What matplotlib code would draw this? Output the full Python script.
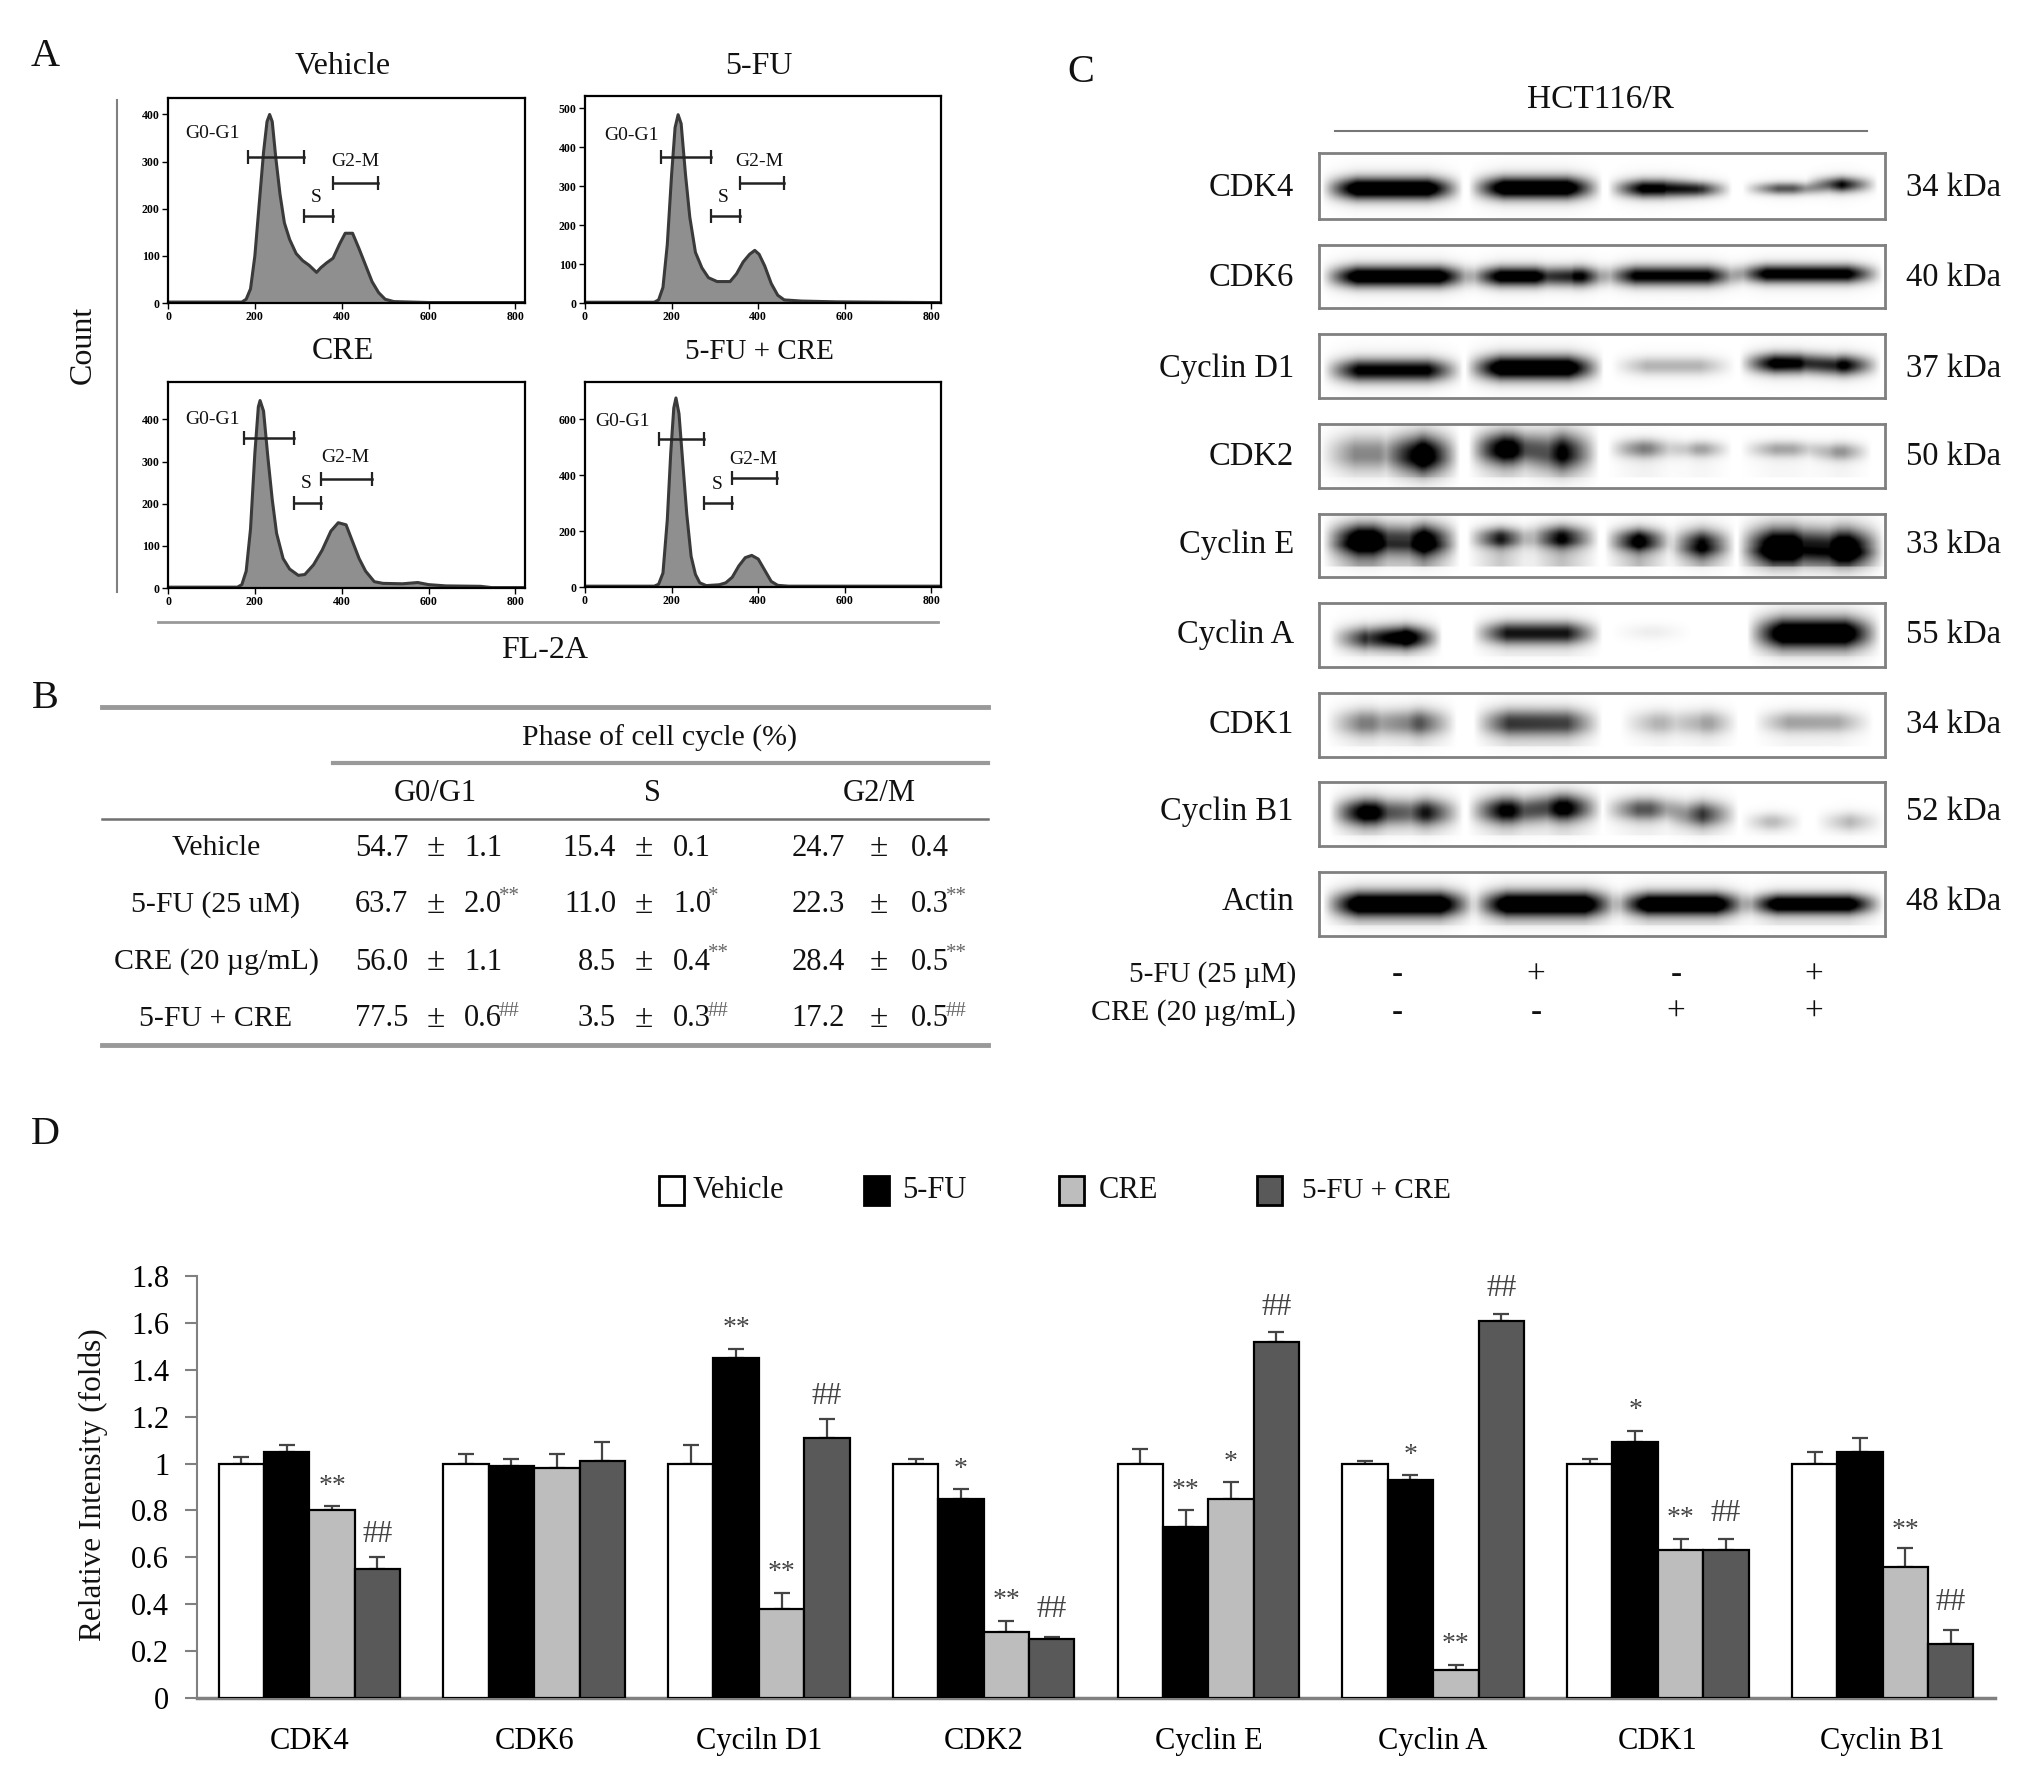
import numpy as np
import matplotlib
matplotlib.use('Agg')
import matplotlib.pyplot as plt
from matplotlib.lines import Line2D
from matplotlib.patches import Rectangle

plt.rcParams['font.family'] = ['Liberation Serif', 'DejaVu Serif']

W, H = 2035, 1771

# Panel A: histograms
hist_titles = ['Vehicle', '5-FU', 'CRE', '5-FU + CRE']
hist_x = [
    [0, 170, 180, 190, 200, 210, 220, 228, 234, 240, 248, 258, 268, 280, 295, 310, 325, 342, 352, 365, 380, 395, 408, 425, 440, 455, 470, 485, 500, 520, 600, 820],
    [0, 160, 170, 180, 190, 200, 208, 215, 222, 232, 242, 255, 270, 285, 305, 335, 350, 365, 380, 392, 402, 415, 430, 445, 460, 500, 580, 820],
    [0, 160, 170, 180, 190, 200, 208, 212, 220, 230, 240, 250, 265, 280, 300, 315, 335, 355, 375, 392, 410, 425, 440, 455, 475, 495, 540, 575, 600, 640, 720, 745, 820],
    [0, 160, 170, 180, 190, 198, 205, 210, 217, 225, 235, 245, 255, 265, 280, 310, 325, 340, 355, 370, 385, 400, 415, 430, 445, 470, 820],
]
hist_y = [
    [2, 2, 8, 30, 100, 210, 320, 385, 400, 385, 310, 230, 170, 135, 105, 90, 80, 65, 75, 85, 95, 125, 148, 148, 115, 80, 45, 22, 8, 3, 1, 1],
    [2, 2, 8, 40, 150, 330, 450, 483, 460, 330, 220, 130, 90, 65, 55, 55, 75, 105, 125, 135, 125, 95, 50, 20, 8, 5, 3, 1],
    [2, 2, 8, 40, 140, 320, 430, 445, 420, 310, 210, 130, 70, 45, 30, 32, 55, 90, 135, 155, 150, 110, 70, 40, 15, 11, 10, 13, 8, 5, 4, 1, 1],
    [3, 3, 10, 50, 240, 480, 640, 676, 620, 460, 260, 110, 45, 15, 5, 8, 15, 35, 75, 105, 113, 100, 60, 20, 6, 3, 3],
]
hist_ymax = [435, 531, 489, 733]
hist_yticks = [[0, 100, 200, 300, 400], [0, 100, 200, 300, 400, 500], [0, 100, 200, 300, 400], [0, 200, 400, 600]]
hist_boxes = [(168, 98, 525, 303), (585, 96, 941, 303), (168, 382, 525, 588), (585, 382, 941, 587)]
# gates as x0, x1, y for G0-G1, S, G2-M
hist_gates = [
    [(185, 312, 309), (312, 381, 185), (381, 484, 255)],
    [(176, 291, 374), (291, 357, 223), (357, 460, 308)],
    [(174, 291, 355), (290, 353, 202), (353, 469, 259)],
    [(171, 275, 530), (275, 340, 302), (340, 444, 389)],
]
gate_names = ['G0-G1', 'S', 'G2-M']
gate_label_pos = [
    [(212, 131), (316, 194), (355, 159)],
    [(631, 133), (723, 194), (759, 159)],
    [(212, 417), (306, 480), (345, 454)],
    [(622, 419), (717, 481), (753, 456)],
]

# Panel B: table
table_rows = ['Vehicle', '5-FU (25 uM)', 'CRE (20 µg/mL)', '5-FU + CRE']
table_cols = ['G0/G1', 'S', 'G2/M']
table_mean = [['54.7', '15.4', '24.7'], ['63.7', '11.0', '22.3'], ['56.0', '8.5', '28.4'], ['77.5', '3.5', '17.2']]
table_err = [['1.1', '0.1', '0.4'], ['2.0', '1.0', '0.3'], ['1.1', '0.4', '0.5'], ['0.6', '0.3', '0.5']]
table_sig = [['', '', ''], ['**', '*', '**'], ['', '**', '**'], ['##', '##', '##']]

# Panel C: blots, each band is x0, x1, dark left, dark right, y in box, thickness
blot_names = ['CDK4', 'CDK6', 'Cyclin D1', 'CDK2', 'Cyclin E', 'Cyclin A', 'CDK1', 'Cyclin B1', 'Actin']
blot_kda = ['34 kDa', '40 kDa', '37 kDa', '50 kDa', '33 kDa', '55 kDa', '34 kDa', '52 kDa', '48 kDa']
blot_label_y = [186, 276, 367, 455, 543, 633, 723, 810, 900]
blot_rows = [(153, 219), (245, 308), (334, 398), (424, 488), (514, 577), (603, 667), (693, 757), (782, 846), (872, 936)]
blot_bands = [
    [(470, 638, 1, 1, .54, .16), (702, 858, 1, 1, .53, .16), (922, 1010, .85, .8, .54, .13), (1015, 1063, .75, .7, .55, .11), (1135, 1215, .5, .5, .54, .09), (1235, 1293, .75, .75, .48, .11)],
    [(470, 656, .95, .95, .5, .16), (697, 808, .9, .9, .5, .15), (827, 870, 1, 1, .5, .15), (910, 1080, .8, .8, .49, .15), (1117, 1301, .85, .85, .46, .14)],
    [(472, 638, .8, .8, .57, .17), (697, 860, 1, 1, .53, .18), (928, 1068, .22, .22, .5, .14), (1130, 1225, .9, .75, .46, .15), (1235, 1298, .8, .8, .49, .15)],
    [(467, 560, .35, .35, .45, .26), (572, 633, 1, 1, .47, .28), (702, 772, 1, .8, .38, .24), (792, 853, .8, .8, .43, .28), (922, 990, .45, .3, .38, .14), (1020, 1063, .35, .35, .39, .12), (1132, 1215, .28, .25, .39, .12), (1240, 1283, .4, .4, .43, .13)],
    [(472, 552, 1, 1, .4, .23), (575, 633, 1, 1, .41, .23), (700, 750, .75, .75, .37, .15), (790, 853, .75, .75, .36, .17), (917, 970, .9, .9, .41, .17), (1018, 1068, .85, .85, .47, .21), (1127, 1215, 1, 1, .5, .27), (1232, 1303, 1, 1, .52, .27)],
    [(482, 540, .6, .65, .55, .17), (545, 605, 1, 1, .54, .17), (707, 858, .7, .7, .47, .17), (927, 1000, .05, .05, .45, .12), (1142, 1298, 1, 1, .47, .23)],
    [(477, 550, .38, .38, .46, .2), (565, 628, .5, .5, .46, .2), (710, 858, .6, .55, .46, .2), (942, 1010, .22, .22, .46, .18), (1030, 1073, .35, .35, .46, .18), (1152, 1286, .28, .25, .45, .16)],
    [(482, 555, .95, .8, .47, .2), (575, 638, .7, .7, .47, .2), (700, 770, .8, .8, .44, .2), (790, 858, .85, .85, .4, .2), (914, 990, .5, .5, .42, .17), (1015, 1073, .6, .6, .5, .19), (1132, 1175, .25, .25, .62, .13), (1250, 1303, .22, .22, .62, .14)],
    [(472, 658, 1, 1, .5, .19), (707, 886, 1, 1, .5, .19), (930, 1093, 1, 1, .5, .17), (1134, 1303, .95, .95, .5, .15)],
]
# faint smear under the bands
blot_tail = [0, 0, 0, .12, .3, .06, .14, .1, .08]
treat_5fu = ['-', '+', '-', '+']
treat_cre = ['-', '-', '+', '+']

# Panel D: bars
groups = ['CDK4', 'CDK6', 'Cyciln D1', 'CDK2', 'Cyclin E', 'Cyclin A', 'CDK1', 'Cyclin B1']
series_names = ['Vehicle', '5-FU', 'CRE', '5-FU + CRE']
series_colors = ['white', 'black', '#bdbdbd', '#595959']
vehicle = [1, 1, 1, 1, 1, 1, 1, 1]
fu = [1.05, .99, 1.45, .85, .73, .93, 1.09, 1.05]
cre = [.8, .98, .38, .28, .85, .12, .63, .56]
fu_cre = [.55, 1.01, 1.11, .25, 1.52, 1.61, .63, .23]
vehicle_err = [.03, .04, .08, .02, .06, .01, .02, .05]
fu_err = [.03, .03, .04, .04, .07, .02, .05, .06]
cre_err = [.02, .06, .07, .05, .07, .02, .05, .08]
fu_cre_err = [.05, .08, .08, .01, .04, .03, .05, .06]
# group, series, mark, height of the mark
sig_marks = [
    (0, 2, '**', .925), (0, 3, '##', .72),
    (2, 1, '**', 1.6), (2, 2, '**', .56), (2, 3, '##', 1.31),
    (3, 1, '*', 1.0), (3, 2, '**', .44), (3, 3, '##', .40),
    (4, 1, '**', .91), (4, 2, '*', 1.03), (4, 3, '##', 1.69),
    (5, 1, '*', 1.06), (5, 2, '**', .25), (5, 3, '##', 1.77),
    (6, 1, '*', 1.25), (6, 2, '**', .79), (6, 3, '##', .81),
    (7, 2, '**', .74), (7, 3, '##', .43),
]

fig = plt.figure(figsize=(W / 100, H / 100), dpi=100)


# positions below are pixels of the final picture, y going down
def txt(x, y, s, size=22, ha='center', **kw):
    return fig.text(x / W, 1 - (y + 3) / H, s, fontsize=size, ha=ha, va='center', color=kw.pop('color', '#111111'), **kw)


def line(x0, y0, x1, y1, color='#808080', lw=1.5):
    fig.add_artist(Line2D([x0 / W, x1 / W], [1 - y0 / H, 1 - y1 / H], color=color, lw=lw))


def box_axes(x0, y0, x1, y1):
    return fig.add_axes([x0 / W, 1 - y1 / H, (x1 - x0) / W, (y1 - y0) / H])


for label, x, y in [('A', 45, 54), ('B', 45, 695), ('C', 1081, 69), ('D', 45, 1131)]:
    txt(x, y, label, size=29)

# Panel A
for i in range(4):
    ax = box_axes(*hist_boxes[i])
    ax.fill_between(hist_x[i], hist_y[i], color='#8f8f8f', lw=0)
    ax.plot(hist_x[i], hist_y[i], color='#3a3a3a', lw=2.2)
    for gate in hist_gates[i]:
        ax.plot(gate[:2], [gate[2], gate[2]], color='#222222', lw=1.8, marker='|', ms=10, mew=1.6)
    ax.set_xlim(0, 822)
    ax.set_ylim(0, hist_ymax[i])
    ax.set_xticks([0, 200, 400, 600, 800])
    ax.set_yticks(hist_yticks[i])
    ax.tick_params(labelsize=8.5, length=4, width=1, pad=2)
    for t in ax.get_xticklabels() + ax.get_yticklabels():
        t.set_fontweight('bold')
    for s in ax.spines.values():
        s.set_linewidth(1.6)
    for name, pos in zip(gate_names, gate_label_pos[i]):
        txt(pos[0], pos[1], name, size=14)
    center = (hist_boxes[i][0] + hist_boxes[i][2]) / 2
    title_y = 64 if i < 2 else 349
    txt(center - 4, title_y, hist_titles[i], size=23 if i < 3 else 21)

txt(83, 342, 'Count', size=23, rotation=90)
txt(545, 648, 'FL-2A', size=23)
line(117, 100, 117, 592)
line(158, 622, 938, 622, color='#999999', lw=2)

# Panel B
line(102, 707, 988, 707, color='#999999', lw=3.5)
line(333, 763, 988, 763, color='#999999', lw=3)
line(102, 819, 988, 819, color='#707070', lw=1.8)
line(102, 1045, 988, 1045, color='#999999', lw=3.5)
txt(660, 735, 'Phase of cell cycle (%)', size=21.5)
col_centers = [435, 652, 879]
mean_right = [408, 616, 845]
pm_x = [436, 644, 879]
err_left = [464, 673, 911]
row_y = [845, 902, 959, 1016]
for c in range(3):
    txt(col_centers[c], 791, table_cols[c], size=22)
for r in range(4):
    txt(216, row_y[r], table_rows[r], size=21.5)
    for c in range(3):
        txt(mean_right[c], row_y[r], table_mean[r][c], size=22, ha='right')
        txt(pm_x[c], row_y[r], '±', size=24)
        txt(err_left[c], row_y[r], table_err[r][c], size=22, ha='left')
        if table_sig[r][c]:
            txt(err_left[c] + 35, row_y[r] - 8, table_sig[r][c], size=15, ha='left', color='#666666')

# Panel C
txt(1600, 97, 'HCT116/R', size=24)
line(1335, 131, 1867, 131, color='#777777')
xx = np.linspace(439, 1331, 450)
for i in range(9):
    top, bottom = blot_rows[i]
    ax = box_axes(1319, top, 1885, bottom)
    yy = np.linspace(0, 1, 120)
    dark = np.zeros((yy.size, xx.size))
    for x0, x1, d0, d1, yc, h in blot_bands[i]:
        edge = np.clip((xx - x0 + 28) / 56, 0, 1) * np.clip((x1 - xx + 28) / 56, 0, 1)
        amount = d0 + (d1 - d0) * np.clip((xx - x0) / (x1 - x0), 0, 1)
        across = 1.25 * np.exp(-((yy - yc) / h) ** 2) + .08 * np.exp(-((yy - yc) / (h * 2)) ** 2)
        dark += np.outer(across, edge * amount)
        # smear runs down from the band and stops short of the frame
        smear = blot_tail[i] * np.clip((yy - yc) / .1, 0, 1) * (yy < .84)
        dark += np.outer(smear, edge * amount)
    ax.imshow(1 - np.clip(dark, 0, 1), cmap='gray', vmin=0, vmax=1, aspect='auto', extent=(439, 1331, 1, 0))
    ax.set_xticks([])
    ax.set_yticks([])
    for s in ax.spines.values():
        s.set_color('#808080')
        s.set_linewidth(2)
    txt(1294, blot_label_y[i] - 1, blot_names[i], size=23.5, ha='right')
    txt(1906, blot_label_y[i] - 1, blot_kda[i], size=23.5, ha='left')

lane_x = [1397, 1536, 1676, 1814]
txt(1296, 972, '5-FU (25 µM)', size=21, ha='right')
txt(1296, 1010, 'CRE (20 µg/mL)', size=21.5, ha='right')
for k in range(4):
    txt(lane_x[k], 972, treat_5fu[k], size=24)
    txt(lane_x[k], 1010, treat_cre[k], size=24)

# Panel D
ax = box_axes(197, 1276, 1995, 1698)
values = [vehicle, fu, cre, fu_cre]
errors = [vehicle_err, fu_err, cre_err, fu_cre_err]
bar_w = .202
pos = np.arange(len(groups))
for j in range(4):
    ax.bar(pos + (j - 1.5) * bar_w, values[j], bar_w, color=series_colors[j], edgecolor='black', lw=1.6, zorder=3)
    ax.errorbar(pos + (j - 1.5) * bar_w, values[j], yerr=[np.zeros(8), errors[j]], fmt='none',
                ecolor='#444444', elinewidth=1.6, capsize=6, capthick=1.6, zorder=2)
for g, j, mark, y in sig_marks:
    ax.annotate(mark, (g + (j - 1.5) * bar_w, y), xytext=(0, -4), textcoords='offset points',
                fontsize=20 if mark[0] == '*' else 22, ha='center', va='center', color='#444444')
ax.set_xlim(-.5, 7.5)
ax.set_ylim(0, 1.8)
ax.set_yticks([0, .2, .4, .6, .8, 1, 1.2, 1.4, 1.6, 1.8])
ax.set_yticklabels(['0', '0.2', '0.4', '0.6', '0.8', '1', '1.2', '1.4', '1.6', '1.8'])
ax.set_xticks(pos)
ax.set_xticklabels(groups)
ax.tick_params(axis='y', labelsize=22, length=9, width=1.5, color='#808080', pad=11)
ax.tick_params(axis='x', labelsize=22, length=0, pad=21)
ax.spines[['top', 'right']].set_visible(False)
ax.spines[['left', 'bottom']].set_color('#808080')
ax.spines['left'].set_linewidth(1.5)
ax.spines['bottom'].set_linewidth(2.5)
txt(93, 1482, 'Relative Intensity (folds)', size=22.5, rotation=90)

legend_x = [659, 864, 1059, 1257]
legend_text_x = [693, 902, 1099, 1302]
for j in range(4):
    fig.add_artist(Rectangle((legend_x[j] / W, 1 - 1205 / H), 25 / W, 29 / H, facecolor=series_colors[j],
                             edgecolor='black', lw=2, transform=fig.transFigure))
    txt(legend_text_x[j], 1188, series_names[j], size=22 if j < 3 else 21, ha='left')

fig.savefig('out.png', dpi=100)
